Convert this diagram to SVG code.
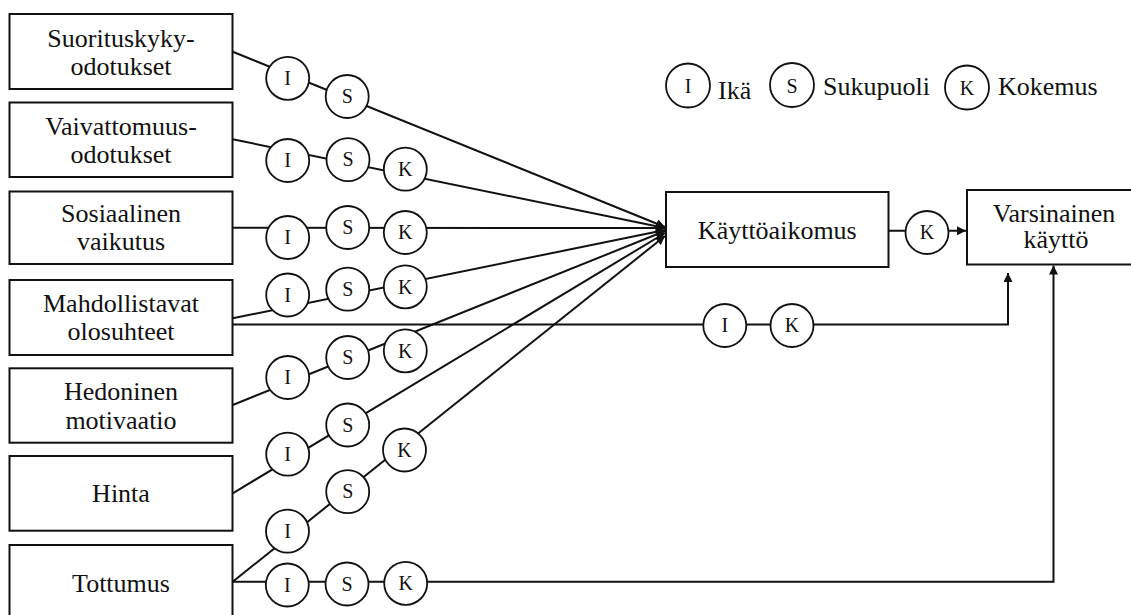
<svg xmlns="http://www.w3.org/2000/svg" width="1131" height="615" viewBox="0 0 1131 615">
<style>
.box{fill:#fff;stroke:#111;stroke-width:2}
.t{font-family:'Liberation Serif','DejaVu Serif',serif;font-size:26px;fill:#111;text-anchor:middle}
.lt{font-family:'Liberation Serif','DejaVu Serif',serif;font-size:26px;fill:#111}
.c{fill:#fff;stroke:#111;stroke-width:1.8}
.ct{font-family:'Liberation Serif','DejaVu Serif',serif;font-size:20px;fill:#111;text-anchor:middle}
.ln{fill:none;stroke:#111;stroke-width:2}
</style>
<defs>
<marker id="ah" markerUnits="userSpaceOnUse" markerWidth="10" markerHeight="9" refX="9" refY="4.5" orient="auto">
<path d="M0,0 L9,4.5 L0,9 Z" fill="#111"/>
</marker>
</defs>
<rect width="1131" height="615" fill="#fff"/>

<g id="connectors">
<line class="ln" x1="232.7" y1="51.7" x2="665" y2="227" marker-end="url(#ah)"/>
<line class="ln" x1="232.7" y1="139.3" x2="665" y2="228" marker-end="url(#ah)"/>
<line class="ln" x1="232.7" y1="227.7" x2="665" y2="228" marker-end="url(#ah)"/>
<line class="ln" x1="232.7" y1="318.3" x2="665" y2="230" marker-end="url(#ah)"/>
<line class="ln" x1="232.7" y1="405" x2="665" y2="231" marker-end="url(#ah)"/>
<line class="ln" x1="232.7" y1="493.3" x2="665" y2="233" marker-end="url(#ah)"/>
<line class="ln" x1="232.7" y1="581.7" x2="665" y2="236" marker-end="url(#ah)"/>
<polyline class="ln" points="232.7,324.5 1008,324.5 1008,273" marker-end="url(#ah)"/>
<polyline class="ln" points="232.7,581.7 1053.5,581.7 1053.5,265.5" marker-end="url(#ah)"/>
<line class="ln" x1="888.5" y1="230.8" x2="966" y2="230.8" marker-end="url(#ah)"/>
</g>

<g id="n-suorituskyky">
<rect class="box" x="9.5" y="14" width="223" height="75"/>
<text class="t" x="121" y="46.5">Suorituskyky-</text>
<text class="t" x="121" y="75">odotukset</text>
</g>
<g id="n-vaivattomuus">
<rect class="box" x="9.5" y="102.5" width="223" height="74.5"/>
<text class="t" x="121" y="134.5">Vaivattomuus-</text>
<text class="t" x="121" y="163">odotukset</text>
</g>
<g id="n-sosiaalinen">
<rect class="box" x="9.5" y="191.5" width="223" height="72.5"/>
<text class="t" x="121" y="221.7">Sosiaalinen</text>
<text class="t" x="121" y="250">vaikutus</text>
</g>
<g id="n-mahdollistavat">
<rect class="box" x="9.5" y="280" width="223" height="75"/>
<text class="t" x="121" y="311.7">Mahdollistavat</text>
<text class="t" x="121" y="340">olosuhteet</text>
</g>
<g id="n-hedoninen">
<rect class="box" x="9.5" y="368.3" width="223" height="74.4"/>
<text class="t" x="121" y="400">Hedoninen</text>
<text class="t" x="121" y="428.5">motivaatio</text>
</g>
<g id="n-hinta">
<rect class="box" x="9.5" y="456" width="223" height="74.7"/>
<text class="t" x="121" y="501.7">Hinta</text>
</g>
<g id="n-tottumus">
<rect class="box" x="9.5" y="545" width="223" height="80"/>
<text class="t" x="121" y="591.7">Tottumus</text>
</g>
<g id="n-kayttoaikomus">
<rect class="box" x="666" y="192" width="222.5" height="75"/>
<text class="t" x="777.3" y="239">Käyttöaikomus</text>
</g>
<g id="n-varsinainen">
<rect class="box" x="967" y="190" width="180" height="74.5"/>
<text class="t" x="1054" y="221.7">Varsinainen</text>
<text class="t" x="1056" y="248.3">käyttö</text>
</g>

<g id="moderators">
<circle class="c" cx="287.7" cy="78.3" r="21.5"/><text class="ct" x="287.7" y="85">I</text>
<circle class="c" cx="347.2" cy="96.5" r="21.5"/><text class="ct" x="347.2" y="103.2">S</text>

<circle class="c" cx="287.7" cy="160.5" r="21.5"/><text class="ct" x="287.7" y="167.2">I</text>
<circle class="c" cx="348" cy="159.7" r="21.5"/><text class="ct" x="348" y="166.4">S</text>
<circle class="c" cx="405.3" cy="169.2" r="21.5"/><text class="ct" x="405.3" y="175.9">K</text>

<circle class="c" cx="287.7" cy="237.5" r="21.5"/><text class="ct" x="287.7" y="244.2">I</text>
<circle class="c" cx="347.7" cy="227.5" r="21.5"/><text class="ct" x="347.7" y="234.2">S</text>
<circle class="c" cx="405.3" cy="232.5" r="21.5"/><text class="ct" x="405.3" y="239.2">K</text>

<circle class="c" cx="287.7" cy="295" r="21.5"/><text class="ct" x="287.7" y="301.7">I</text>
<circle class="c" cx="347.7" cy="289.2" r="21.5"/><text class="ct" x="347.7" y="295.9">S</text>
<circle class="c" cx="405.3" cy="286.8" r="21.5"/><text class="ct" x="405.3" y="293.5">K</text>

<circle class="c" cx="724.8" cy="325.5" r="21.5"/><text class="ct" x="724.8" y="332.2">I</text>
<circle class="c" cx="792" cy="325.5" r="21.5"/><text class="ct" x="792" y="332.2">K</text>

<circle class="c" cx="287.7" cy="377.5" r="21.5"/><text class="ct" x="287.7" y="384.2">I</text>
<circle class="c" cx="347.7" cy="357.5" r="21.5"/><text class="ct" x="347.7" y="364.2">S</text>
<circle class="c" cx="405.3" cy="350.8" r="21.5"/><text class="ct" x="405.3" y="357.5">K</text>

<circle class="c" cx="287.7" cy="454.2" r="21.5"/><text class="ct" x="287.7" y="460.9">I</text>
<circle class="c" cx="347.7" cy="425" r="21.5"/><text class="ct" x="347.7" y="431.7">S</text>

<circle class="c" cx="287.5" cy="531.2" r="21.5"/><text class="ct" x="287.5" y="537.9">I</text>
<circle class="c" cx="347.7" cy="491.7" r="21.5"/><text class="ct" x="347.7" y="498.4">S</text>
<circle class="c" cx="404.5" cy="450" r="21.5"/><text class="ct" x="404.5" y="456.7">K</text>

<circle class="c" cx="287.3" cy="585" r="21.5"/><text class="ct" x="287.3" y="591.7">I</text>
<circle class="c" cx="347" cy="584" r="21.5"/><text class="ct" x="347" y="590.7">S</text>
<circle class="c" cx="405.7" cy="583.3" r="21.5"/><text class="ct" x="405.7" y="590">K</text>

<circle class="c" cx="927" cy="232.5" r="21.5"/><text class="ct" x="927" y="239.2">K</text>
</g>

<g id="legend">
<circle class="c" cx="688" cy="85.5" r="22"/><text class="ct" x="688" y="93">I</text>
<text class="lt" x="718" y="99">Ikä</text>
<circle class="c" cx="792" cy="85" r="22"/><text class="ct" x="792" y="92.5">S</text>
<text class="lt" x="823" y="95">Sukupuoli</text>
<circle class="c" cx="967" cy="87.5" r="22"/><text class="ct" x="967" y="95">K</text>
<text class="lt" x="998" y="95">Kokemus</text>
</g>
</svg>
